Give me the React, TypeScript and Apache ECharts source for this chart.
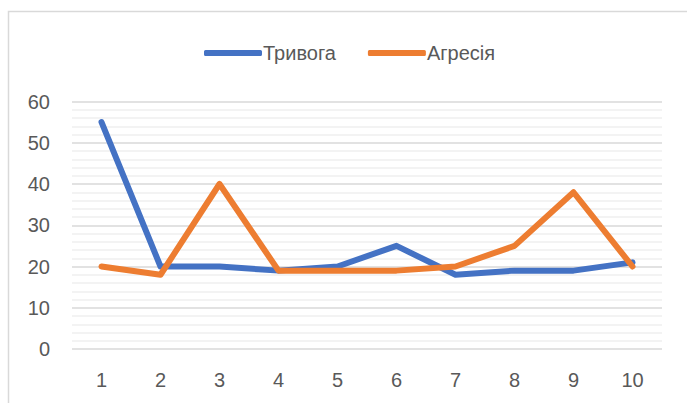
import React, { useEffect, useRef } from "react";
import * as echarts from "echarts";

const categories = ["1", "2", "3", "4", "5", "6", "7", "8", "9", "10"];
const anxiety = [55, 20, 20, 19, 20, 25, 18, 19, 19, 21];
const aggression = [20, 18, 40, 19, 19, 19, 20, 25, 38, 20];
const seriesNames = ["Тривога", "Агресія"];

export default function App() {
  const ref = useRef<HTMLDivElement>(null);
  useEffect(() => {
    document.body.style.margin = "0";
    const chart = echarts.init(ref.current!, null, { renderer: "svg" });
    const font = "'Liberation Sans', Arial, sans-serif";
    chart.setOption({
      animation: false,
      textStyle: { fontFamily: font },
      graphic: [
        {
          type: "rect",
          shape: { x: 8.5, y: 11.5, width: 720, height: 420 },
          style: { fill: "none", stroke: "#d9d9d9", lineWidth: 1.5 },
          silent: true,
        },
      ],
      legend: {
        top: 38,
        left: 199,
        itemWidth: 58,
        itemHeight: 6,
        itemGap: 32,
        icon: "roundRect",
        textStyle: { fontSize: 20, color: "#595959", fontFamily: font, padding: [0, 0, 0, -4] },
        data: seriesNames,
      },
      grid: { left: 72, right: 25, top: 101.5, bottom: 54, containLabel: false },
      xAxis: {
        type: "category",
        data: categories,
        boundaryGap: true,
        axisLine: { show: false },
        axisTick: { show: false },
        axisLabel: { fontSize: 20, color: "#595959", margin: 21 },
      },
      yAxis: {
        type: "value",
        min: 0,
        max: 60,
        interval: 10,
        axisLine: { show: false },
        axisTick: { show: false },
        axisLabel: { fontSize: 20, color: "#595959", margin: 22 },
        splitLine: { lineStyle: { color: "#d9d9d9", width: 1.5 } },
        minorTick: { show: false, splitNumber: 5 },
        minorSplitLine: { show: true, lineStyle: { color: "#efefef", width: 1.5 } },
      },
      series: [
        {
          name: seriesNames[0],
          type: "line",
          data: anxiety,
          showSymbol: false,
          symbol: "none",
          color: "#4472C4",
          lineStyle: { width: 6, color: "#4472C4", cap: "round", join: "round" },
        },
        {
          name: seriesNames[1],
          type: "line",
          data: aggression,
          showSymbol: false,
          symbol: "none",
          color: "#ED7D31",
          lineStyle: { width: 6, color: "#ED7D31", cap: "round", join: "round" },
        },
      ],
    });
    return () => chart.dispose();
  }, []);
  return <div ref={ref} style={{ width: 687, height: 403 }} />;
}
